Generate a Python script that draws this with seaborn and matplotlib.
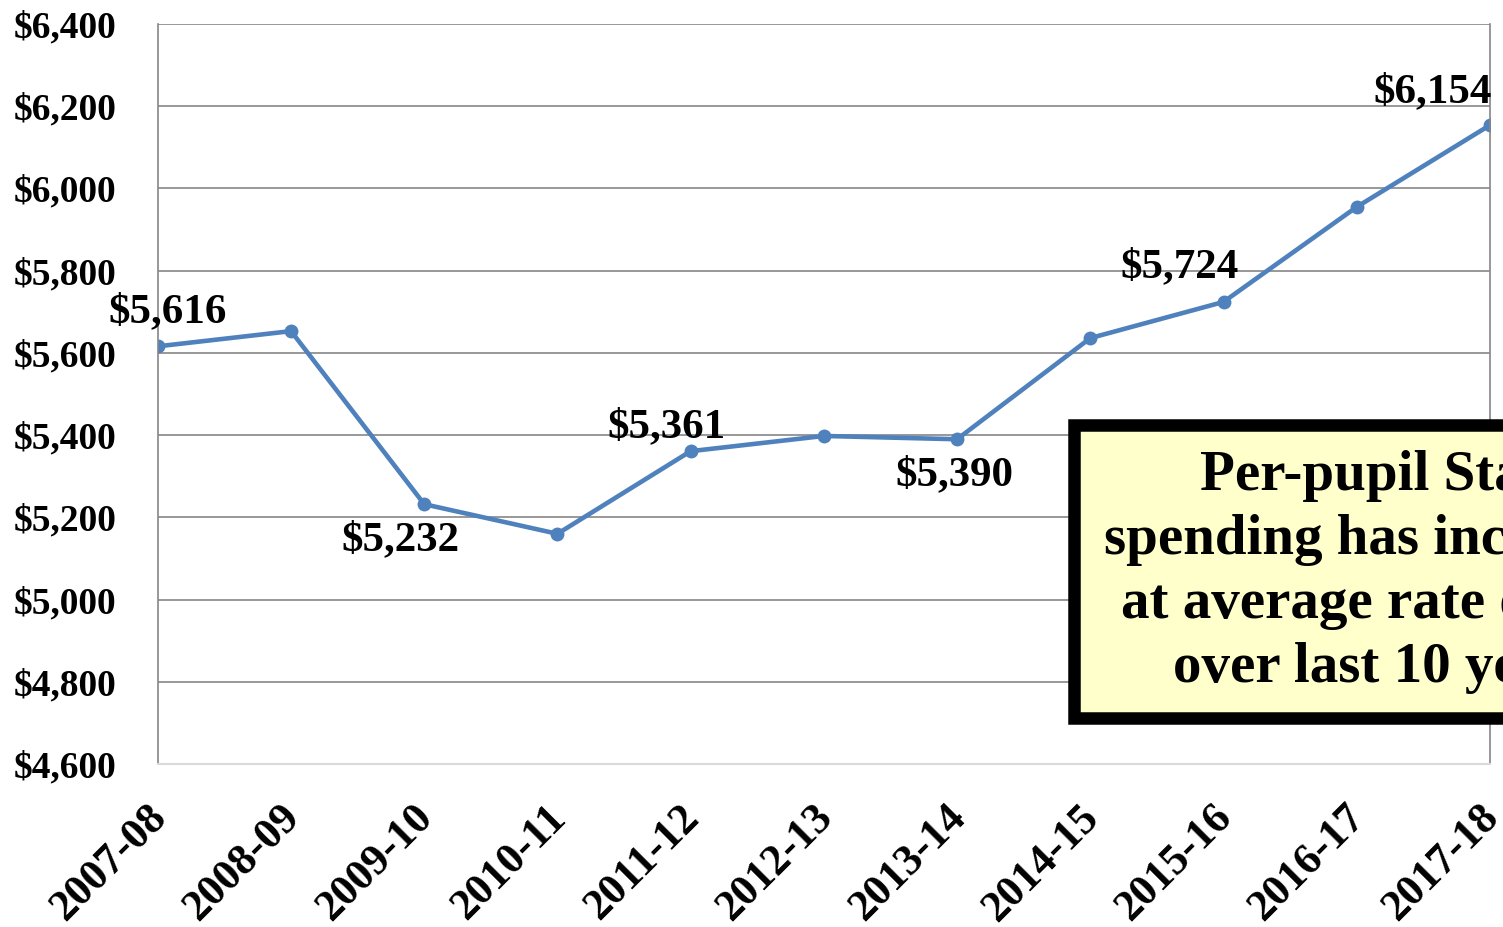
"""Per-pupil State spending line chart, 2007-08 to 2017-18."""

import matplotlib
matplotlib.use("Agg")
import matplotlib.pyplot as plt
import matplotlib.ticker as mticker
import matplotlib.transforms as mtransforms
import pandas as pd
import seaborn as sns
from matplotlib.patches import Rectangle

years = ["2007-08", "2008-09", "2009-10", "2010-11", "2011-12", "2012-13",
         "2013-14", "2014-15", "2015-16", "2016-17", "2017-18"]
spending = [5616, 5653, 5232, 5160, 5361, 5398, 5390, 5636, 5724, 5955, 6154]
labelled = [0, 2, 4, 6, 8, 10]
note_text = "Per-pupil State\nspending has increased\nat average rate of 1%\nover last 10 years"

LINE = "#4F81BD"
GRID = "#868686"

sns.set_theme(style="white")
plt.rcParams["font.family"] = ["Liberation Serif", "DejaVu Serif"]
plt.rcParams.update({
    "font.weight": "bold",
    "text.color": "black",
    "xtick.color": "black",
    "ytick.color": "black",
})

df = pd.DataFrame({"year": years, "spending": spending})

fig = plt.figure(figsize=(15.03, 9.27), dpi=100)
ax = fig.add_axes([0.105, 0.1758, 0.8863, 0.7983])

sns.lineplot(data=df, x="year", y="spending", ax=ax, color=LINE, linewidth=3.3,
             marker="o", markersize=10, markeredgewidth=0, sort=False)

ax.set_xlim(0, len(years) - 1)
ax.set_ylim(4600, 6400)
ax.set_yticks(range(4600, 6401, 200))
ax.yaxis.set_major_formatter(mticker.FuncFormatter(lambda v, _: f"${v:,.0f}"))
ax.yaxis.grid(True, color=GRID, linewidth=1.2)
ax.set_axisbelow(True)
ax.set_xlabel("")
ax.set_ylabel("")

ax.tick_params(axis="y", labelsize=27, length=0, pad=30)
for lbl in ax.get_yticklabels():
    lbl.set_fontweight("bold")
ax.set_xticks(range(len(years)))
ax.set_xticklabels(years, rotation=45, ha="right", rotation_mode="anchor", fontweight="bold")
ax.tick_params(axis="x", labelsize=31.5, direction="in", length=8, color="#d9d9d9", width=1.2,
               pad=24, labelcolor="black")
shift = mtransforms.ScaledTranslation(-0.12, 0, fig.dpi_scale_trans)
for lbl in ax.get_xticklabels():
    lbl.set_transform(lbl.get_transform() + shift)

for side in ["left", "right"]:
    ax.spines[side].set_color(GRID)
    ax.spines[side].set_linewidth(1.2)
ax.spines["top"].set_visible(False)
ax.spines["bottom"].set_color("#d9d9d9")
ax.spines["bottom"].set_linewidth(1.5)

offsets = {0: (10, 34), 2: (-24, -36), 4: (-24, 24), 6: (-3, -36), 8: (-44, 35), 10: (-57, 33)}
for i in labelled:
    ax.annotate(f"${spending[i]:,}", (i, spending[i]), xytext=offsets[i],
                textcoords="offset pixels", ha="center", va="center",
                fontsize=31, fontweight="bold", color="black", annotation_clip=False)

# note box, clipped by the right edge of the figure as in the original
box = Rectangle((1074 / 1503, 1 - 718 / 927), 0.35, (718 - 425) / 927, transform=fig.transFigure,
                facecolor="#FFFFCC", edgecolor="black", linewidth=9, zorder=5)
fig.add_artist(box)
fig.text(1384 / 1503, 1 - 572 / 927, note_text, ha="center", va="center", fontsize=41,
         fontweight="bold", linespacing=1.3, zorder=6)

fig.savefig("out.png", dpi=100)
